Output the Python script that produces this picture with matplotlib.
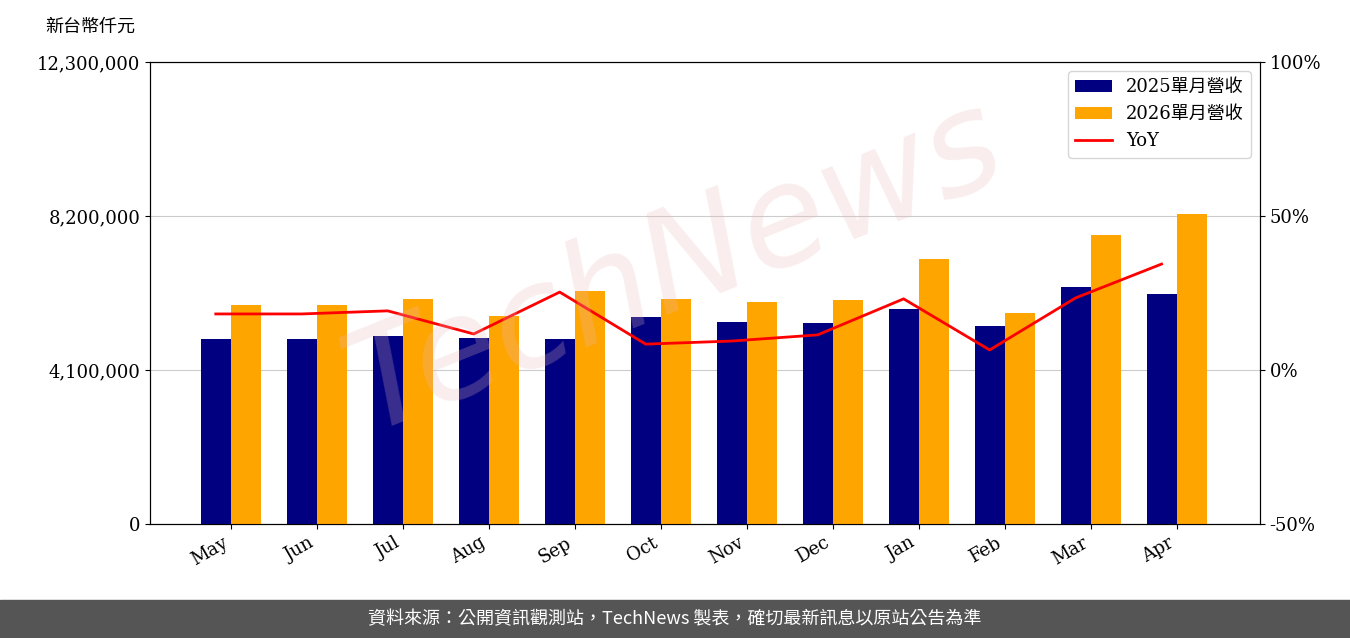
import matplotlib
matplotlib.use("Agg")
import matplotlib.pyplot as plt
import numpy as np
from matplotlib.ticker import FuncFormatter

months = ["May","Jun","Jul","Aug","Sep","Oct","Nov","Dec","Jan","Feb","Mar","Apr"]
rev2025 = [4930000,4930000,5000000,4950000,4930000,5510000,5380000,5350000,5720000,5270000,6310000,6120000]
rev2026 = [5830000,5830000,5990000,5540000,6200000,5990000,5910000,5960000,7060000,5620000,7690000,8250000]
yoy = [18.2,18.2,19.2,11.7,25.3,8.4,9.4,11.4,23.1,6.5,23.4,34.4]

plt.rcParams['font.family'] = ['DejaVu Serif', 'Noto Sans CJK TC']
fig = plt.figure(figsize=(13.5, 6.38), dpi=100)
ax = fig.add_axes([150/1350, 1-524/638, 1110/1350, 462/638])
x = np.arange(len(months))
w = 0.35
ax.bar(x - w/2, rev2025, w, color='#000080', label='2025單月營收', zorder=3)
ax.bar(x + w/2, rev2026, w, color='#FFA500', label='2026單月營收', zorder=3)
ax.set_ylim(0, 12300000)
ax.set_yticks([0, 4100000, 8200000, 12300000])
ax.yaxis.set_major_formatter(FuncFormatter(lambda v, p: f"{int(v):,}"))
ax.grid(axis='y', color='#cccccc', zorder=0)
ax.set_xlim(-0.94, 11.97)
ax.set_xticks(x)
ax.set_xticklabels(months, rotation=30, ha='right')
ax.tick_params(labelsize=13)
ax2 = ax.twinx()
ax2.plot(x - w/2, yoy, color='red', lw=2, label='YoY')
ax2.set_ylim(-50, 100)
ax2.set_yticks([-50, 0, 50, 100])
ax2.yaxis.set_major_formatter(FuncFormatter(lambda v, p: f"{int(v)}%"))
ax2.tick_params(labelsize=13)
h1, l1 = ax.get_legend_handles_labels()
h2, l2 = ax2.get_legend_handles_labels()
ax2.legend(h1 + h2, l1 + l2, loc='upper right', fontsize=13)
fig.text(45/1350, 1-27/638, '新台幣仟元', fontsize=13, va='center')
fig.text(0.5, 0.58, 'TechNews', fontsize=100, rotation=22, color='#e8b8b8', alpha=0.25,
         ha='center', va='center', family='DejaVu Sans', fontstyle='italic', zorder=0)
fig.patches.append(plt.Rectangle((0, 0), 1, 38/638, transform=fig.transFigure, color='#555555', zorder=0))
fig.text(0.5, 19/638, '資料來源：公開資訊觀測站，TechNews 製表，確切最新訊息以原站公告為準',
         color='white', fontsize=13, ha='center', va='center', family=['Noto Sans CJK TC', 'DejaVu Sans'])
fig.savefig('out.png', dpi=100)
